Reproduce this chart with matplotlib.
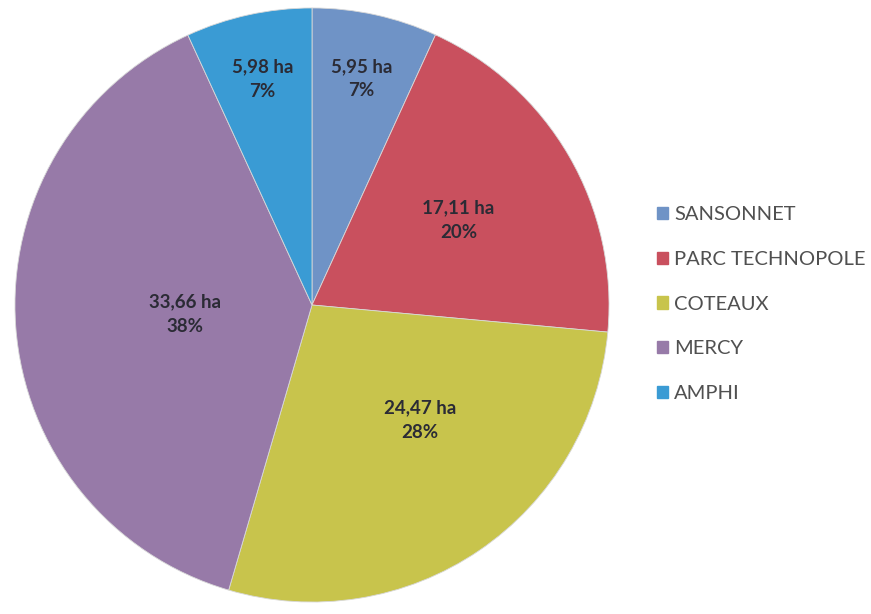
import matplotlib
matplotlib.use("Agg")
import matplotlib.pyplot as plt
import numpy as np

categories = ["SANSONNET", "PARC TECHNOPOLE", "COTEAUX", "MERCY", "AMPHI"]
hectares = [5.95, 17.11, 24.47, 33.66, 5.98]
value_labels = ["5,95 ha", "17,11 ha", "24,47 ha", "33,66 ha", "5,98 ha"]
percent_labels = ["7%", "20%", "28%", "38%", "7%"]
colors = ["#6f93c6", "#c9505e", "#c8c44c", "#977aa8", "#3a9bd4"]
label_radius = [0.78, 0.57, 0.53, 0.43, 0.78]
label_angle_shift = [0, 0, 9, 0, 0]

fig = plt.figure(figsize=(8.71, 6.14), dpi=100)
W, H = 871, 614
cx, cy, r = 312, 305, 300
ax = fig.add_axes([(cx - r) / W, (H - cy - r) / H, 2 * r / W, 2 * r / H])
wedges, _ = ax.pie(hectares, colors=colors, startangle=90, counterclock=False,
                   radius=1, wedgeprops=dict(linewidth=0.6, edgecolor="#d8d8d8"))
ax.set_xlim(-1.01, 1.01)
ax.set_ylim(-1.01, 1.01)
ax.set_aspect("equal")
ax.axis("off")

for w, vl, pl, lr, sh in zip(wedges, value_labels, percent_labels, label_radius, label_angle_shift):
    th = np.deg2rad((w.theta1 + w.theta2) / 2 + sh)
    x, y = lr * np.cos(th), lr * np.sin(th)
    ax.text(x, y, vl + "\n" + pl, ha="center", va="center", fontsize=13.5,
            fontweight="bold", color="#2b2b35", family="Lato", linespacing=1.55)

handles = [plt.Rectangle((0, 0), 1, 1, color=c) for c in colors]
leg = fig.legend(handles, categories, loc="upper left",
                 bbox_to_anchor=(647 / W, 1 - 196 / H), frameon=False,
                 prop=dict(family="Lato", size=14.5), labelcolor="#505050",
                 handlelength=0.55, handleheight=0.55, handletextpad=0.3,
                 labelspacing=1.38, borderpad=0)

fig.savefig("out.png", dpi=100)
